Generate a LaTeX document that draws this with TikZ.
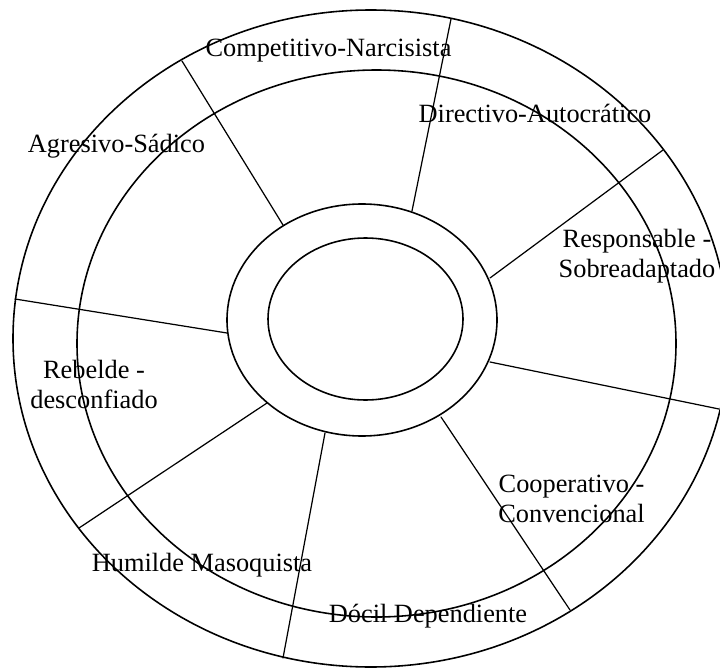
\documentclass[tikz,border=0pt]{standalone}
\usepackage{fontspec}
\setmainfont{Liberation Serif}

\begin{document}
\begin{tikzpicture}[
  x=0.02cm, y=-0.02cm,
  line cap=round,
  every node/.style={font=\fontsize{15}{17}\selectfont, align=center, inner sep=0pt},
  ring/.style={black, line width=0.9pt},
  spoke/.style={black, line width=0.7pt}
]
  \useasboundingbox (0,0) rectangle (720,669);

  % Rings (outer one runs past the right edge)
  \draw[ring] (370.8,338.5) ellipse (357.8 and 328.5);
  \draw[ring] (376.5,343.5) ellipse (299.5 and 273.5);
  \draw[ring] (362,320) ellipse (135 and 116);
  \draw[ring] (365.5,319) ellipse (97.5 and 81);

  % Spokes from the middle ring out to the outer ring
  \foreach \xo/\yo/\xi/\yi in {182/61/283/225, 451/19/412/211, 663/150/490/278,
                               719/409/490/362, 570/610/441/417, 283/658/325/433,
                               79/528/267/403, 15/299/227/333}
    \draw[spoke] (\xo,\yo) -- (\xi,\yi);

  % Sector labels (base = baseline of the last line)
  \node[anchor=base] (compet) at (328.5,57) {Competitivo-Narcisista};
  \node[anchor=base] (direct) at (535,123) {Directivo-Autocrático};
  \node[anchor=base] (respon) at (637,277) {Responsable -\\Sobreadaptado};
  \node[anchor=base] (cooper) at (571.5,522) {Cooperativo -\\Convencional};
  \node[anchor=base] (docil)  at (428,622) {Dócil Dependiente};
  \node[anchor=base] (humild) at (202,571) {Humilde Masoquista};
  \node[anchor=base] (rebeld) at (94,408) {Rebelde -\\desconfiado};
  \node[anchor=base] (agresi) at (116.5,153) {Agresivo-Sádico};
\end{tikzpicture}
\end{document}
